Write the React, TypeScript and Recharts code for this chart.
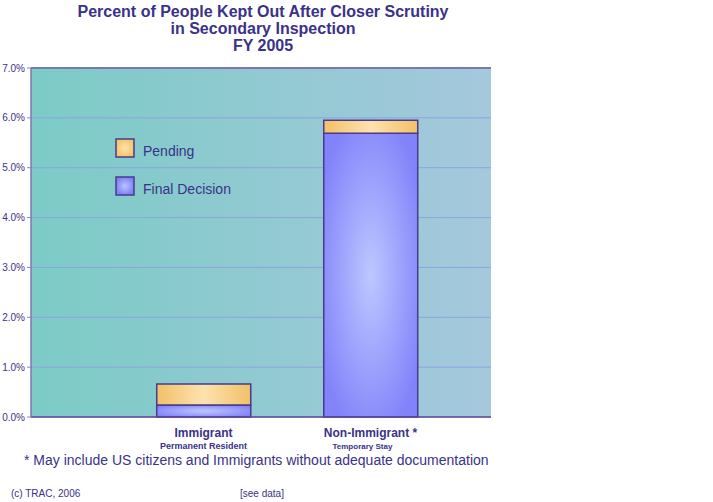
import { BarChart, Bar, XAxis, YAxis, CartesianGrid, ReferenceLine } from 'recharts';

const categories = ['Immigrant', 'Non-Immigrant *'];
const subLabels = ['Permanent Resident', 'Temporary Stay'];
const finalDecision = [0.0024, 0.0569];
const pending = [0.0042, 0.0026];
const yTicks = [0, 0.01, 0.02, 0.03, 0.04, 0.05, 0.06, 0.07];

const data = categories.map((name, i) => ({
  name,
  sub: subLabels[i],
  finalDecision: finalDecision[i],
  pending: pending[i],
}));

const ink = '#3a3288';
const font = '"Liberation Sans", Arial, sans-serif';

function CategoryTick({ x, y, payload, index }: any) {
  const sub = subLabels[index] ?? '';
  const big = index === 1;
  return (
    <g>
      <text x={x} y={y + 12} textAnchor="middle" fontSize={12} fontWeight="bold" fill={ink} fontFamily={font}>
        {payload.value}
      </text>
      <text
        x={big ? x - 38 : x}
        y={y + 24}
        textAnchor={big ? 'start' : 'middle'}
        fontSize={big ? 8 : 9}
        fontWeight="bold"
        fill={ink}
        fontFamily={font}
      >
        {sub}
      </text>
    </g>
  );
}

function LegendBox() {
  const items = [
    { label: 'Pending', fill: 'url(#pendLeg)' },
    { label: 'Final Decision', fill: 'url(#finLeg)' },
  ];
  return (
    <svg width={160} height={70} style={{ position: 'absolute', left: 115, top: 138 }}>
      <defs>
        <radialGradient id="pendLeg">
          <stop offset="0%" stopColor="#fde2ae" />
          <stop offset="100%" stopColor="#f4c56c" />
        </radialGradient>
        <radialGradient id="finLeg">
          <stop offset="0%" stopColor="#b8c4ff" />
          <stop offset="100%" stopColor="#8282f6" />
        </radialGradient>
      </defs>
      {items.map((it, i) => (
        <g key={it.label}>
          <rect x={1} y={1 + i * 38} width={18} height={18} fill={it.fill} stroke="#4a3a8c" strokeWidth={1.5} />
          <text x={28} y={18 + i * 38} fontSize={14} fill={ink} fontFamily={font}>
            {it.label}
          </text>
        </g>
      ))}
    </svg>
  );
}

export default function App() {
  return (
    <div style={{ position: 'absolute', left: 0, top: 0, width: 713, height: 502, background: '#fff', fontFamily: font }}>
      <div
        style={{
          position: 'absolute',
          left: 0,
          top: 3,
          width: 526,
          textAlign: 'center',
          fontSize: 16,
          fontWeight: 'bold',
          lineHeight: '17px',
          color: ink,
        }}
      >
        Percent of People Kept Out After Closer Scrutiny
        <br />
        in Secondary Inspection
        <br />
        FY 2005
      </div>
      <BarChart
        width={713}
        height={502}
        data={data}
        margin={{ top: 68, right: 222, bottom: 55, left: 0 }}
        barCategoryGap="22%"
      >
        <defs>
          <linearGradient id="bgGrad" x1="0" y1="0" x2="1" y2="0">
            <stop offset="0%" stopColor="#7ccbc6" />
            <stop offset="100%" stopColor="#a5c8dd" />
          </linearGradient>
          <linearGradient id="pendGrad" x1="0" y1="0" x2="1" y2="0">
            <stop offset="0%" stopColor="#f2c068" />
            <stop offset="50%" stopColor="#fde2ae" />
            <stop offset="100%" stopColor="#f2c068" />
          </linearGradient>
          <radialGradient id="finGrad" cx="0.5" cy="0.5" r="0.6">
            <stop offset="0%" stopColor="#bcc8ff" />
            <stop offset="100%" stopColor="#8282fa" />
          </radialGradient>
        </defs>
        <CartesianGrid vertical={false} stroke="#8fa3e2" strokeWidth={1} fill="url(#bgGrad)" fillOpacity={1} />
        <XAxis
          dataKey="name"
          padding={{ left: 89, right: 37 }}
          axisLine={{ stroke: '#5a4a9a', strokeWidth: 1.5 }}
          tickLine={false}
          tick={<CategoryTick />}
          interval={0}
          height={30}
        />
        <YAxis
          width={31}
          domain={[0, 0.07]}
          ticks={yTicks}
          tickFormatter={(v: number) => `${(v * 100).toFixed(1)}%`}
          tick={{ fontSize: 10, fill: ink, fontFamily: font }}
          tickSize={4}
          tickMargin={2}
          tickLine={{ stroke: '#8a88b8' }}
          axisLine={{ stroke: '#7a78b0', strokeWidth: 1.5 }}
        />
        <YAxis yAxisId="right" orientation="right" width={0} tick={false} axisLine={{ stroke: '#7a78b0', strokeWidth: 1.5 }} />
        <ReferenceLine y={0.07} stroke="#7a78b0" strokeWidth={2} />
        <Bar dataKey="finalDecision" stackId="a" fill="url(#finGrad)" stroke="#4a3a8c" strokeWidth={1.5} isAnimationActive={false} />
        <Bar dataKey="pending" stackId="a" fill="url(#pendGrad)" stroke="#4a3a8c" strokeWidth={1.5} isAnimationActive={false} />
      </BarChart>
      <LegendBox />
      <div style={{ position: 'absolute', left: 24, top: 452, fontSize: 14, color: ink, whiteSpace: 'nowrap' }}>
        * May include US citizens and Immigrants without adequate documentation
      </div>
      <div style={{ position: 'absolute', left: 11, top: 488, fontSize: 10, color: ink }}>(c) TRAC, 2006</div>
      <div style={{ position: 'absolute', left: 240, top: 488, fontSize: 10, color: ink }}>[see data]</div>
    </div>
  );
}
